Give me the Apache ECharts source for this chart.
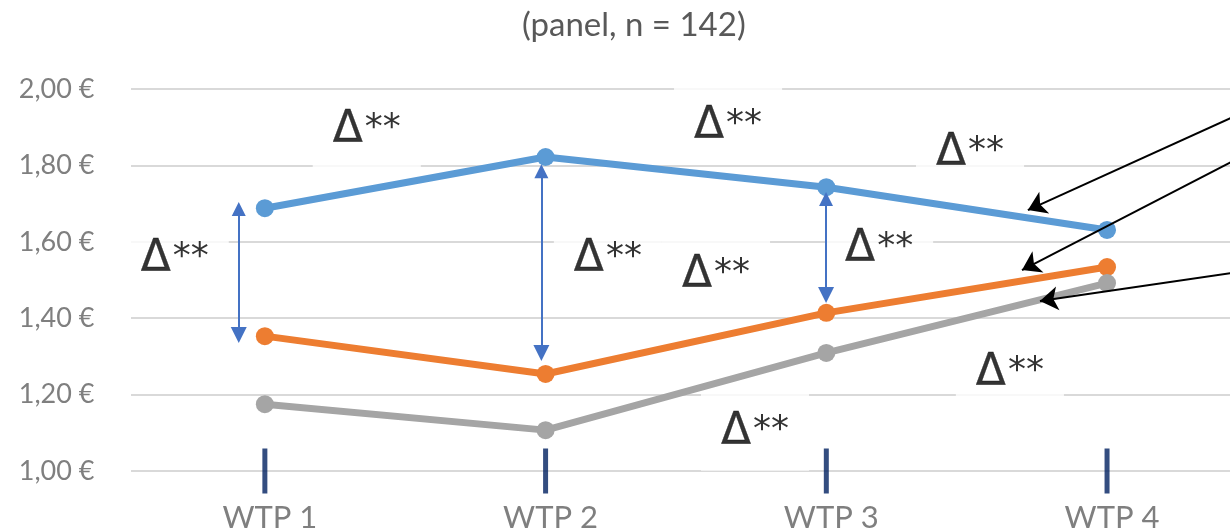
<!DOCTYPE html>
<html>
<head>
<meta charset="utf-8">
<script src="https://cdn.jsdelivr.net/npm/echarts@6/dist/echarts.min.js"></script>
<style>html,body{margin:0;padding:0;background:#fff}#c{width:1230px;height:532px}</style>
</head>
<body>
<div id="c"></div>
<script>
// ---- data ----
const categories = ['WTP 1', 'WTP 2', 'WTP 3', 'WTP 4'];
const blueValues = [1.688, 1.822, 1.743, 1.631];
const orangeValues = [1.353, 1.254, 1.414, 1.534];
const grayValues = [1.175, 1.107, 1.309, 1.492];
const axisBaseValue = 1.0;
const yMin = 1.0, yMax = 2.0, yStep = 0.2;
const xMin = -0.5, xMax = 3.438;
const titleText = '(panel, n = 142)';
// annotation anchors in data space (x: category position, y: value)
const deltaAnchors = [[0.363, 1.893], [1.650, 1.905], [2.512, 1.833], [-0.321, 1.556], [1.222, 1.556], [1.607, 1.514], [2.188, 1.582], [2.654, 1.257], [1.746, 1.103]];
const doubleArrows = [[[-0.093, 1.686], [-0.093, 1.356]], [[0.985, 1.785], [0.985, 1.309]], [[1.999, 1.712], [1.999, 1.461]]];
const pointerArrows = [[[3.45, 1.927], [2.718, 1.683]], [[3.45, 1.812], [2.697, 1.526]], [[3.45, 1.519], [2.761, 1.445]]];

const chart = echarts.init(document.getElementById('c'), null, {renderer: 'canvas'});
const fmtEuro = v => v.toFixed(2).replace('.', ',') + ' €';
const catIdx = categories.map((c, i) => i);
const pairs = vals => vals.map((v, i) => [catIdx[i], v]);
const lineSeries = (name, vals, color) => ({
  name, type: 'line', data: pairs(vals), xAxisIndex: 0, yAxisIndex: 0, z: 4,
  symbol: 'circle', symbolSize: 18, showSymbol: true,
  lineStyle: {color, width: 7}, itemStyle: {color}
});

chart.setOption({
  animation: false,
  backgroundColor: '#fff',
  title: {text: titleText, left: 517, top: 4,
    textStyle: {fontFamily: 'Lato', fontWeight: 'normal', fontSize: 33, color: '#595959'}},
  grid: [
    {left: 124.5, right: 0, top: 89, height: 382, outerBoundsMode: 'none'},
    {left: 131, right: 0, top: 89, height: 382, outerBoundsMode: 'none'}
  ],
  xAxis: [
    {type: 'value', gridIndex: 0, min: xMin, max: xMax,
      axisLine: {show: false}, axisTick: {show: false}, splitLine: {show: false},
      axisLabel: {customValues: catIdx, formatter: v => categories[Math.round(v)] || '',
        margin: 31, color: '#7f7f7f', fontFamily: 'Lato', fontSize: 31, padding: [0, 0, 0, 10]}},
    {type: 'value', gridIndex: 1, min: 0, max: 1, show: false}
  ],
  yAxis: [
    {type: 'value', gridIndex: 0, min: yMin, max: yMax, interval: yStep,
      axisLine: {show: false}, axisTick: {show: false}, splitLine: {show: false},
      axisLabel: {margin: 30, color: '#7f7f7f', fontFamily: 'Lato', fontSize: 27, formatter: fmtEuro}},
    {type: 'value', gridIndex: 1, min: yMin, max: yMax, interval: yStep,
      axisLine: {show: false}, axisTick: {show: false}, axisLabel: {show: false},
      splitLine: {show: true, lineStyle: {color: '#d9d9d9', width: 2}}}
  ],
  series: [
    {type: 'scatter', xAxisIndex: 0, yAxisIndex: 0, z: 3, silent: true,
      data: catIdx.map(i => [i, axisBaseValue]),
      symbol: 'rect', symbolSize: [5, 45], itemStyle: {color: '#002060'}},
    lineSeries('Blue', blueValues, '#5b9bd5'),
    lineSeries('Orange', orangeValues, '#ed7d31'),
    lineSeries('Gray', grayValues, '#a5a5a5'),
    {type: 'scatter', xAxisIndex: 0, yAxisIndex: 0, z: 1, silent: true,
      data: deltaAnchors, symbolSize: 0,
      label: {show: true, position: 'inside', formatter: '{d|Δ}{s|**}',
        backgroundColor: '#fff', padding: [20, 20, 18, 20],
        rich: {
          d: {fontFamily: 'DejaVu Sans', fontSize: 44, color: '#000', lineHeight: 40,
            textBorderColor: '#000', textBorderWidth: 0.3},
          s: {fontFamily: 'DejaVu Sans', fontSize: 36, color: '#000', lineHeight: 40, verticalAlign: 'top',
            padding: [0, 0, 0, 2]}
        }}},
    {type: 'lines', coordinateSystem: 'cartesian2d', xAxisIndex: 0, yAxisIndex: 0, z: 5, silent: true,
      data: doubleArrows.map(c => ({coords: c})),
      symbol: ['triangle', 'triangle'], symbolSize: [14, 16],
      lineStyle: {color: '#4472c4', width: 2, opacity: 1}},
    {type: 'lines', coordinateSystem: 'cartesian2d', xAxisIndex: 0, yAxisIndex: 0, z: 5, silent: true,
      data: pointerArrows.map(c => ({coords: c})),
      symbol: ['none', 'arrow'], symbolSize: 18,
      lineStyle: {color: '#000', width: 2, opacity: 1}}
  ]
});
</script>
</body>
</html>
